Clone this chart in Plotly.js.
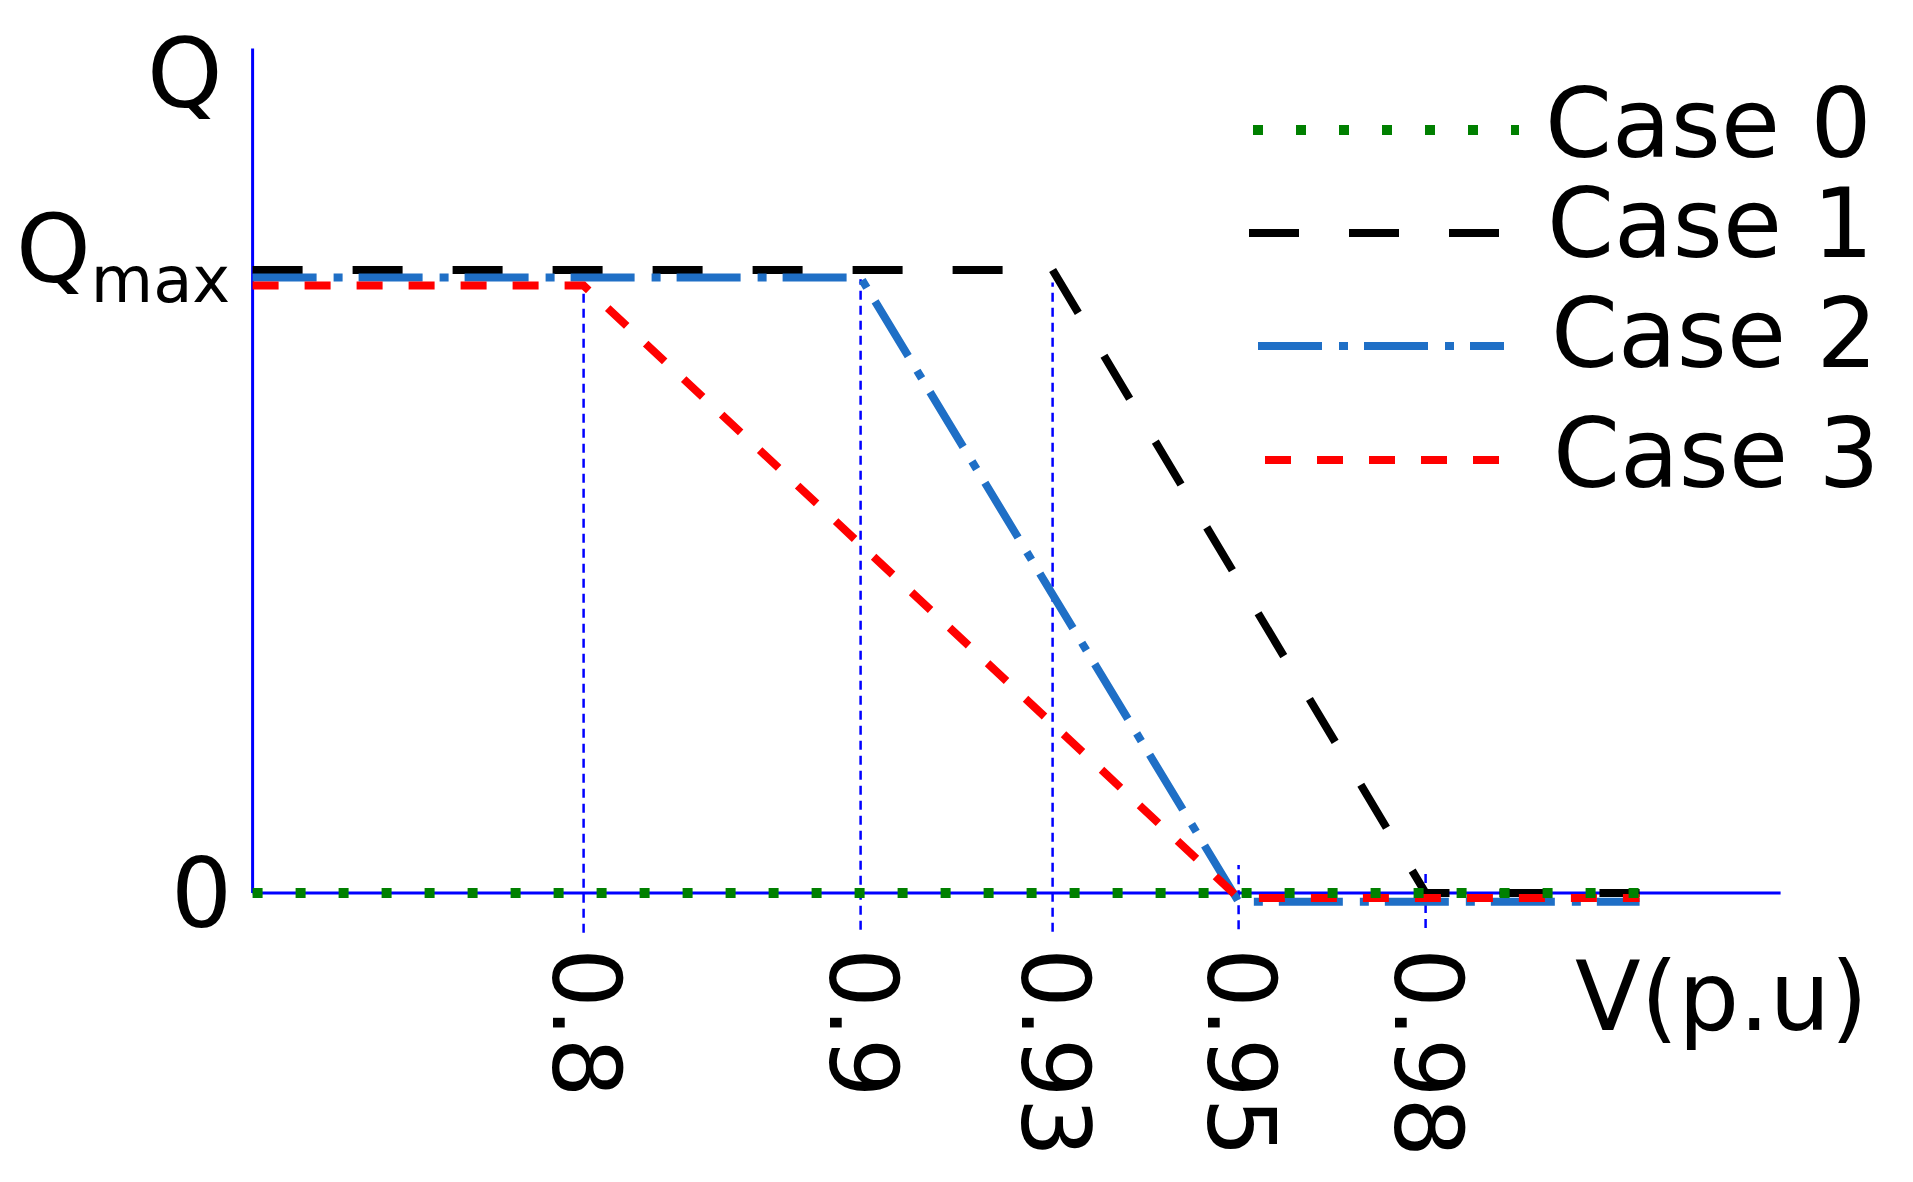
<!DOCTYPE html>
<html>
<head>
<meta charset="utf-8">
<script src="https://cdn.plot.ly/plotly-3.0.1.min.js"></script>
<style>html,body{margin:0;padding:0;background:#fff;}#chart{width:1913px;height:1182px;}</style>
</head>
<body>
<div id="chart"></div>
<script>
// ---------------- DATA ----------------
const caseNames = ['Case 0', 'Case 1', 'Case 2', 'Case 3'];
const tickLabels = ['0.8', '0.9', '0.93', '0.95', '0.98'];
// voltage breakpoints of each case ('start' = axis origin, 'end' = end of the curves)
const case0V = ['start', 'end'];
const case0Q = [0, 0];
const case1V = ['start', '0.93', '0.98', 'end'];
const case1Q = [1, 1, 0, 0];
const case2V = ['start', '0.9', '0.95', 'end'];
const case2Q = [0.988, 0.988, -0.014, -0.014];
const case3V = ['start', '0.8', '0.95', 'end'];
const case3Q = [0.975, 0.975, -0.008, -0.008];
const qZeroLabel = '0';
const qMaxLabel = 'Q<sub><span style="font-size:64px">max</span></sub>';
const qMaxValue = 1;

// ---------------- SCALE / LAYOUT ----------------
// schematic (non-uniform) V axis: where each voltage sits along the axis
const vAxisPos = {start: 0, '0.8': 3.31, '0.9': 6.08, '0.93': 8.00, '0.95': 9.86, '0.98': 11.73, end: 13.87};
const X_AXIS_END = 15.28, Y_AXIS_TOP = 1.3555;
const toX = arr => arr.map(v => vAxisPos[v]);

const colors = ['#008000', '#000000', '#1f6fc6', '#ff0000'];
const widths = [10, 8, 8, 8];
const dashes = ['10px,33px', '50px,50px', '64px,17px,9px,16px', '26px,26px'];
const series = [[case0V, case0Q], [case1V, case1Q], [case2V, case2Q], [case3V, case3Q]];
const drawOrder = [1, 2, 3, 0];

const traces = drawOrder.map(i => ({
  type: 'scatter', mode: 'lines', name: caseNames[i],
  x: toX(series[i][0]), y: series[i][1],
  line: {color: colors[i], width: widths[i], dash: dashes[i]},
  hoverinfo: 'skip', showlegend: false
}));

const FONT = 'DejaVu Sans, Verdana, sans-serif';
const M = {l: 233, r: 120, t: 40, b: 239};
const W = 1913, H = 1182;
const pw = W - M.l - M.r, ph = H - M.t - M.b;
const px = x => (x - M.l) / pw;
const py = y => (H - M.b - y) / ph;

const guideTop = [0.968, 0.985, 0.98, 0.045, 0.04];
const guideBottom = [-0.064, -0.059, -0.062, -0.058, -0.056];

const shapes = [];
// axes
shapes.push({type: 'line', xref: 'x', yref: 'y', x0: 0, x1: 0, y0: 0, y1: Y_AXIS_TOP, line: {color: '#0000ff', width: 3}, layer: 'below'});
shapes.push({type: 'line', xref: 'x', yref: 'y', x0: 0, x1: X_AXIS_END, y0: 0, y1: 0, line: {color: '#0000ff', width: 3}, layer: 'below'});
// guide lines at each voltage tick
tickLabels.forEach((t, k) => {
  shapes.push({type: 'line', xref: 'x', yref: 'y', x0: vAxisPos[t], x1: vAxisPos[t], y0: guideBottom[k], y1: guideTop[k],
    line: {color: '#0000ff', width: 2.5, dash: '9px,6px'}, layer: 'below'});
});

// legend (custom, long samples)
const legSampleY = [130, 233, 346, 460];
const legSampleX0 = [1253, 1249, 1258, 1265];
const legSampleX1 = [1519, 1501, 1504, 1502];
const legTextX = [1543, 1545, 1549, 1551];
const legTextY = [124, 224, 334, 454];
const annotations = [];
caseNames.forEach((n, i) => {
  shapes.push({type: 'line', xref: 'paper', yref: 'paper', x0: px(legSampleX0[i]), x1: px(legSampleX1[i]),
    y0: py(legSampleY[i]), y1: py(legSampleY[i]), line: {color: colors[i], width: widths[i], dash: dashes[i]}});
  annotations.push({xref: 'paper', yref: 'paper', x: px(legTextX[i]), y: py(legTextY[i]), xanchor: 'left', yanchor: 'middle',
    text: n, showarrow: false, font: {family: FONT, size: 96, color: '#000'}});
});
// axis names
annotations.push({xref: 'paper', yref: 'paper', x: px(185), y: py(74), xanchor: 'center', yanchor: 'middle',
  text: 'Q', showarrow: false, font: {family: FONT, size: 96, color: '#000'}});
annotations.push({xref: 'paper', yref: 'paper', x: px(1573), y: py(997), xanchor: 'left', yanchor: 'middle',
  text: 'V(p.u)', showarrow: false, font: {family: FONT, size: 96, color: '#000'}});
// Qmax tick label on the Q axis
annotations.push({xref: 'paper', yref: 'y', x: px(232), y: qMaxValue, xanchor: 'right', yanchor: 'middle', yshift: 15,
  text: qMaxLabel, showarrow: false, font: {family: FONT, size: 95, color: '#000'}});

const layout = {
  width: W, height: H, margin: M,
  paper_bgcolor: '#fff', plot_bgcolor: '#fff',
  showlegend: false,
  font: {family: FONT, color: '#000'},
  xaxis: {range: [-(252.6 - M.l) / 100, -(252.6 - M.l) / 100 + pw / 100], showgrid: false, zeroline: false, showline: false,
    tickmode: 'array', tickvals: tickLabels.map(t => vAxisPos[t]), ticktext: tickLabels, tickangle: 90,
    ticks: '', tickfont: {family: FONT, size: 94, color: '#000'}, ticklabelstandoff: 4, fixedrange: true},
  yaxis: {range: [-(H - M.b - 893) / 623, (893 - M.t) / 623], showgrid: false, zeroline: false, showline: false,
    tickmode: 'array', tickvals: [0], ticktext: [qZeroLabel], ticks: '',
    tickfont: {family: FONT, size: 96, color: '#000'}, fixedrange: true},
  shapes: shapes,
  annotations: annotations
};

Plotly.newPlot('chart', traces, layout, {staticPlot: true, displayModeBar: false});
</script>
</body>
</html>
